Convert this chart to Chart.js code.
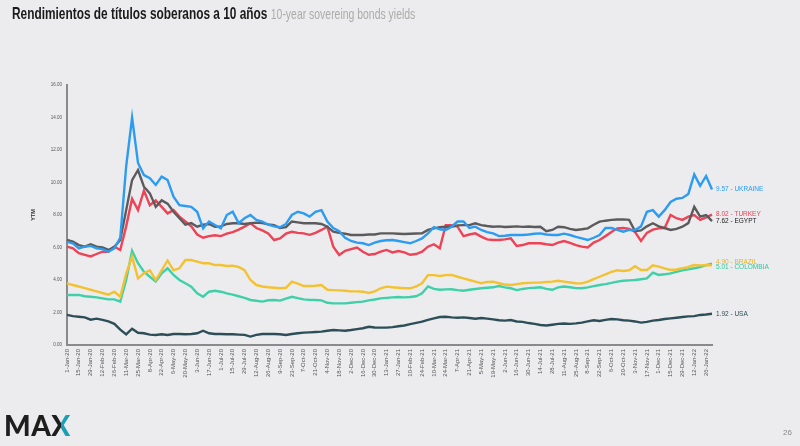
<!DOCTYPE html>
<html>
<head>
<meta charset="utf-8">
<script src="https://cdn.jsdelivr.net/npm/chart.js@4.4.1/dist/chart.umd.min.js"></script>
<style>
  body { margin: 0; background: #ececee; }
  #wrap { position: relative; width: 800px; height: 446px; overflow: hidden; }
  #chart { position: absolute; left: 0; top: 0; }
  .title {
    position: absolute; left: 12px; top: 4px; white-space: nowrap;
    transform: scaleX(0.72); transform-origin: left top;
    font-family: "Liberation Sans", Arial, sans-serif;
    font-size: 16.5px; font-weight: bold; color: #1a1a1a;
  }
  .title .sub { font-weight: normal; font-size: 14.5px; color: #ababab; }
  .logo {
    position: absolute; left: 4px; top: 408px;
    font-family: Lato, "Open Sans", sans-serif; font-weight: 900;
    font-size: 28px; color: #1e1e1e; letter-spacing: 0.5px;
  }
  .logo span {
    background: linear-gradient(to right, #1e1e1e 48%, #1b9fb4 52%);
    -webkit-background-clip: text; background-clip: text; color: transparent;
  }
  .page {
    position: absolute; left: 783px; top: 428px;
    font-family: "Liberation Sans", sans-serif; font-size: 8px; color: #888;
  }
</style>
</head>
<body>
<div id="wrap">
  <canvas id="chart" width="800" height="446"></canvas>
  <div class="title">Rendimientos de títulos soberanos a 10 años <span class="sub">10-year sovereing bonds yields</span></div>
  <div class="logo">MA<span>X</span></div>
  <div class="page">26</div>
</div>
<script>
// Bi-weekly tick labels (one every two weekly points)
const tickLabels = [
  '1-Jan-20', '15-Jan-20', '29-Jan-20', '12-Feb-20', '26-Feb-20', '11-Mar-20', '25-Mar-20',
  '8-Apr-20', '22-Apr-20', '6-May-20', '20-May-20', '3-Jun-20', '17-Jun-20', '1-Jul-20',
  '15-Jul-20', '29-Jul-20', '12-Aug-20', '26-Aug-20', '9-Sep-20', '23-Sep-20', '7-Oct-20',
  '21-Oct-20', '4-Nov-20', '18-Nov-20', '2-Dec-20', '16-Dec-20', '30-Dec-20', '13-Jan-21',
  '27-Jan-21', '10-Feb-21', '24-Feb-21', '10-Mar-21', '24-Mar-21', '7-Apr-21', '21-Apr-21',
  '5-May-21', '19-May-21', '2-Jun-21', '16-Jun-21', '30-Jun-21', '14-Jul-21', '28-Jul-21',
  '11-Aug-21', '25-Aug-21', '8-Sep-21', '22-Sep-21', '6-Oct-21', '20-Oct-21', '3-Nov-21',
  '17-Nov-21', '1-Dec-21', '15-Dec-21', '29-Dec-21', '12-Jan-22', '26-Jan-22'
];

// Weekly yields (%)
const ukraine = [
  6.35, 6.26, 5.95, 6.05, 6.10, 5.95, 5.90, 5.74, 5.95, 6.60,
  11.00, 14.00, 11.20, 10.46, 10.26, 9.85, 10.36, 10.15, 9.13, 8.60,
  8.55, 8.50, 8.20, 7.18, 7.60, 7.38, 7.18, 8.00, 8.20, 7.50,
  7.80, 8.00, 7.70, 7.60, 7.40, 7.30, 7.25, 7.45, 8.00, 8.20,
  8.10, 7.90, 8.20, 8.30, 7.60, 7.20, 7.00, 6.60, 6.40, 6.30,
  6.26, 6.15, 6.30, 6.40, 6.45, 6.46, 6.40, 6.33, 6.26, 6.40,
  6.56, 6.87, 7.25, 7.12, 7.08, 7.28, 7.60, 7.60, 7.20, 7.28,
  7.08, 6.95, 6.87, 6.70, 6.72, 6.77, 6.77, 6.77, 6.80, 6.85,
  6.87, 6.80, 6.77, 6.77, 6.85, 6.77, 6.65, 6.56, 6.46, 6.60,
  6.77, 7.20, 7.20, 7.08, 6.97, 7.08, 7.08, 7.30, 8.20, 8.30,
  7.90, 8.30, 8.80, 9.00, 9.05, 9.30, 10.50, 9.80, 10.40, 9.57
];
const egypt = [
  6.46, 6.36, 6.15, 6.05, 6.20, 6.05, 6.00, 5.85, 6.05, 6.46,
  8.30, 10.15, 10.77, 9.74, 9.33, 8.50, 8.90, 8.70, 8.20, 7.80,
  7.40, 7.50, 7.28, 7.40, 7.45, 7.28, 7.30, 7.45, 7.49, 7.49,
  7.45, 7.50, 7.53, 7.50, 7.42, 7.38, 7.20, 7.25, 7.60, 7.55,
  7.49, 7.49, 7.49, 7.45, 7.28, 6.97, 6.90, 6.85, 6.77, 6.77,
  6.77, 6.80, 6.80, 6.87, 6.87, 6.87, 6.85, 6.83, 6.85, 6.86,
  6.87, 7.08, 7.18, 7.25, 7.28, 7.28, 7.36, 7.38, 7.38, 7.49,
  7.38, 7.32, 7.28, 7.30, 7.26, 7.28, 7.30, 7.27, 7.29, 7.26,
  7.28, 7.00, 7.08, 7.28, 7.25, 7.15, 7.08, 7.12, 7.18, 7.40,
  7.59, 7.65, 7.70, 7.72, 7.73, 7.70, 7.00, 7.05, 7.30, 7.49,
  7.30, 7.20, 7.08, 7.15, 7.28, 7.50, 8.50, 7.90, 8.00, 7.62
];
const turkey = [
  6.05, 5.95, 5.65, 5.55, 5.45, 5.60, 5.74, 5.74, 6.05, 5.85,
  7.30, 9.00, 8.30, 9.50, 8.60, 8.90, 8.50, 8.10, 8.30, 7.90,
  7.60, 7.30, 6.80, 6.60, 6.70, 6.75, 6.70, 6.85, 6.95, 7.10,
  7.28, 7.50, 7.20, 7.05, 6.87, 6.46, 6.56, 6.85, 6.97, 6.90,
  6.87, 6.78, 6.90, 7.08, 7.28, 6.05, 5.54, 5.80, 5.90, 6.00,
  5.74, 5.55, 5.60, 5.74, 5.85, 5.70, 5.78, 5.70, 5.55, 5.60,
  5.74, 6.05, 6.20, 5.95, 7.38, 7.38, 7.28, 6.70, 6.80, 6.87,
  6.67, 6.50, 6.46, 6.46, 6.50, 6.56, 6.10, 6.15, 6.26, 6.26,
  6.26, 6.20, 6.15, 6.30, 6.40, 6.28, 6.15, 6.05, 6.00, 6.30,
  6.46, 6.70, 6.95, 7.18, 7.20, 7.15, 6.95, 6.40, 6.90, 7.10,
  7.18, 7.20, 8.00, 7.80, 7.70, 7.90, 8.00, 7.70, 7.85, 8.02
];
const brazil = [
  3.80, 3.69, 3.60, 3.50, 3.40, 3.30, 3.20, 3.10, 3.28, 2.97,
  4.40, 5.44, 4.10, 4.41, 4.60, 4.00, 4.60, 5.20, 4.60, 4.72,
  5.23, 5.23, 5.13, 5.03, 5.03, 4.92, 4.92, 4.86, 4.88, 4.80,
  4.60, 4.00, 3.69, 3.60, 3.55, 3.52, 3.49, 3.52, 3.90, 3.78,
  3.63, 3.63, 3.65, 3.69, 3.40, 3.38, 3.36, 3.34, 3.30, 3.30,
  3.28, 3.20, 3.30, 3.49, 3.59, 3.55, 3.52, 3.49, 3.49, 3.60,
  3.80, 4.30, 4.30, 4.25, 4.30, 4.31, 4.20, 4.10, 4.00, 3.90,
  3.80, 3.88, 3.90, 3.80, 3.72, 3.69, 3.75, 3.80, 3.82, 3.84,
  3.84, 3.88, 3.90, 3.95, 3.90, 3.85, 3.80, 3.79, 3.90, 4.05,
  4.20, 4.35, 4.50, 4.60, 4.55, 4.60, 4.85, 4.62, 4.62, 4.90,
  4.82, 4.72, 4.62, 4.65, 4.72, 4.80, 4.92, 4.90, 4.92, 4.90
];
const colombia = [
  3.08, 3.08, 3.08, 3.00, 2.97, 2.93, 2.87, 2.81, 2.81, 2.67,
  4.00, 5.80, 5.03, 4.51, 4.20, 3.90, 4.41, 4.72, 4.31, 4.00,
  3.80, 3.59, 3.18, 2.97, 3.28, 3.34, 3.28, 3.18, 3.10, 3.00,
  2.90, 2.77, 2.72, 2.67, 2.75, 2.77, 2.73, 2.85, 2.97, 2.88,
  2.81, 2.78, 2.77, 2.75, 2.60, 2.56, 2.56, 2.56, 2.60, 2.64,
  2.67, 2.75, 2.80, 2.87, 2.90, 2.93, 2.95, 2.93, 2.95, 3.00,
  3.18, 3.60, 3.45, 3.40, 3.42, 3.43, 3.38, 3.34, 3.40, 3.45,
  3.49, 3.52, 3.55, 3.63, 3.55, 3.49, 3.38, 3.45, 3.50, 3.52,
  3.55, 3.45, 3.40, 3.55, 3.60, 3.55, 3.50, 3.49, 3.55, 3.62,
  3.69, 3.75, 3.82, 3.90, 3.95, 3.98, 4.00, 4.05, 4.10, 4.45,
  4.31, 4.35, 4.41, 4.50, 4.60, 4.65, 4.72, 4.80, 4.92, 5.01
];
const usa = [
  1.85, 1.78, 1.74, 1.70, 1.56, 1.62, 1.55, 1.45, 1.30, 0.95,
  0.65, 1.00, 0.75, 0.72, 0.64, 0.62, 0.66, 0.62, 0.68, 0.68,
  0.66, 0.68, 0.72, 0.88, 0.72, 0.68, 0.68, 0.66, 0.66, 0.64,
  0.62, 0.52, 0.62, 0.68, 0.68, 0.68, 0.66, 0.62, 0.68, 0.72,
  0.76, 0.78, 0.80, 0.82, 0.88, 0.92, 0.90, 0.88, 0.92, 0.98,
  1.03, 1.12, 1.08, 1.07, 1.07, 1.10, 1.15, 1.20, 1.28, 1.36,
  1.44, 1.55, 1.64, 1.72, 1.74, 1.70, 1.68, 1.70, 1.66, 1.62,
  1.66, 1.62, 1.58, 1.52, 1.50, 1.54, 1.45, 1.42, 1.35, 1.30,
  1.23, 1.20, 1.25, 1.30, 1.32, 1.30, 1.33, 1.38, 1.45, 1.52,
  1.48, 1.55, 1.60, 1.58, 1.52, 1.50, 1.45, 1.38, 1.42, 1.50,
  1.54, 1.60, 1.64, 1.68, 1.72, 1.76, 1.78, 1.85, 1.88, 1.92
];

// weekly categories: a label on every other week
const weeks = ukraine.map((_, i) => (i % 2 === 0 ? (tickLabels[i / 2] || '') : ''));

const series = [
  { label: 'Ukraine', data: ukraine, color: '#2b9cf2', text: '#2b9cf2', nudge: 0 },
  { label: 'Egypt', data: egypt, color: '#5b5b5d', text: '#222222', nudge: 0 },
  { label: 'Turkey', data: turkey, color: '#ec4357', text: '#ec4357', nudge: 0 },
  { label: 'Brazil', data: brazil, color: '#f3c232', text: '#e9b420', nudge: -3.5 },
  { label: 'Colombia', data: colombia, color: '#3fd0aa', text: '#2fc7a0', nudge: 3.5 },
  { label: 'USA', data: usa, color: '#2d4e58', text: '#2d4e58', nudge: 0 }
];

// value + country name next to the last point of each line
const endLabels = {
  id: 'endLabels',
  afterDatasetsDraw(chart) {
    const ctx = chart.ctx;
    ctx.save();
    ctx.font = '6.5px "Liberation Sans", Arial, sans-serif';
    ctx.textBaseline = 'middle';
    ctx.textAlign = 'left';
    series.forEach((s, i) => {
      const meta = chart.getDatasetMeta(i);
      const pt = meta.data[meta.data.length - 1];
      const v = s.data[s.data.length - 1];
      ctx.fillStyle = s.text;
      ctx.fillText(v.toFixed(2) + ' - ' + s.label.toUpperCase(), pt.x + 4, pt.y + s.nudge);
    });
    ctx.restore();
  }
};

Chart.defaults.font.family = '"Liberation Sans", Arial, sans-serif';
Chart.defaults.color = '#444';

new Chart(document.getElementById('chart').getContext('2d'), {
  type: 'line',
  data: {
    labels: weeks,
    datasets: series.map(s => ({
      label: s.label,
      data: s.data,
      borderColor: s.color,
      backgroundColor: s.color,
      borderWidth: 2.4,
      pointRadius: 0,
      tension: 0,
      fill: false
    }))
  },
  options: {
    responsive: false,
    animation: false,
    layout: { padding: { left: 30, right: 88, top: 85, bottom: 48 } },
    plugins: {
      legend: { display: false },
      tooltip: { enabled: false }
    },
    scales: {
      x: {
        grid: { display: false, drawTicks: false },
        border: { color: '#8a8a8a', width: 2 },
        ticks: {
          autoSkip: false, maxRotation: 90, minRotation: 90,
          padding: 4, font: { size: 6 }, color: '#555'
        },
        afterFit: (scale) => { scale.height = 53; }
      },
      y: {
        min: 0, max: 16,
        grid: { display: false, drawTicks: false },
        border: { color: '#8a8a8a', width: 2 },
        ticks: {
          stepSize: 2, padding: 5, font: { size: 4.5 }, color: '#555',
          callback: (v) => v.toFixed(2)
        },
        title: { display: true, text: 'YTM', font: { size: 5.5, weight: 'bold' }, color: '#333', padding: 0 },
        afterFit: (scale) => { scale.width = 37; }
      }
    }
  },
  plugins: [endLabels]
});
</script>
</body>
</html>
